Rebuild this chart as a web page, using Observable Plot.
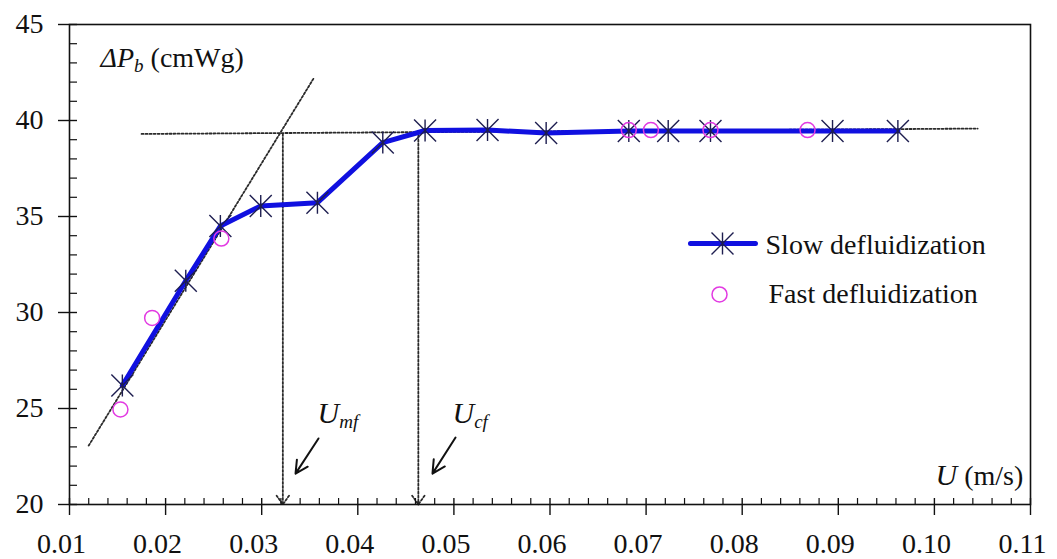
<!DOCTYPE html>
<html><head><meta charset="utf-8">
<script src="https://cdn.jsdelivr.net/npm/d3@7"></script>
<script src="https://cdn.jsdelivr.net/npm/@observablehq/plot@0.6"></script>
<style>
body{margin:0;background:#fff;font-family:"Liberation Serif";font-size:28px}
#fontwarm{position:absolute;left:2px;top:2px;z-index:-1;color:#fff;font-family:"Liberation Serif";font-size:3px;line-height:1}
#chart{position:relative}
</style>
</head><body><span id="fontwarm">0.1 Sw <i>U</i></span><div id="chart"></div>
<script>
// Slow defluidization (blue line with asterisks)
const slowU = [0.0155, 0.0221, 0.0257, 0.0299, 0.0358, 0.0426, 0.0470, 0.0535, 0.0596, 0.0682, 0.0723, 0.0767, 0.0894, 0.0962];
const slowP = [26.2, 31.65, 34.5, 35.55, 35.72, 38.85, 39.48, 39.5, 39.35, 39.45, 39.45, 39.45, 39.45, 39.45];
// Fast defluidization (magenta circles)
const fastU = [0.0153, 0.0186, 0.0258, 0.0682, 0.0705, 0.0767, 0.0868];
const fastP = [24.95, 29.72, 33.85, 39.5, 39.5, 39.5, 39.5];
// Tick labels
const xTicks = [0.01, 0.02, 0.03, 0.04, 0.05, 0.06, 0.07, 0.08, 0.09, 0.10, 0.11];
const yTicks = [20, 25, 30, 35, 40, 45];
// Dotted construction lines
const tangentU = [0.0120, 0.0354];
const tangentP = [23.07, 42.19];
const plateauU = [0.0175, 0.1045];
const plateauP = [39.3, 39.58];
const velocityNames = ["Umf", "Ucf"];
const velocityU = [0.0322, 0.0463];
const velocityTopP = [39.3, 39.42];
// Annotation pointer arrows
const pointerU1 = [0.03591, 0.05017];
const pointerP1 = [23.44, 23.49];
const pointerU2 = [0.03352, 0.04777];
const pointerP2 = [21.61, 21.61];
// Text annotations
const noteText = ["ΔPb (cmWg)", "Umf", "Ucf", "U (m/s)"];
const noteU = [0.01323, 0.03581, 0.04985, 0.10011];
const noteP = [42.81, 24.22, 24.22, 20.99];
// Legend
const legendNames = ["Slow defluidization", "Fast defluidization"];
const legendSymbolU = [0.07795, 0.07764];
const legendLineU = [0.07462, 0.08138];
const legendTextU = [0.08243, 0.08274];
const legendP = [33.59, 30.94];
const legendTextP = [33.07, 30.47];

if (document.fonts && document.fonts.load) {
  document.fonts.load('28px "Liberation Serif"');
  document.fonts.load('italic 28px "Liberation Serif"');
}

const slow = slowU.map((u, i) => ({u, p: slowP[i]}));
const fast = fastU.map((u, i) => ({u, p: fastP[i]}));
const tangent = tangentU.map((u, i) => ({u, p: tangentP[i]}));
const plateau = plateauU.map((u, i) => ({u, p: plateauP[i]}));
const verticals = velocityNames.map((n, i) => ({n, u: velocityU[i], top: velocityTopP[i], bottom: yTicks[0]}));
const pointers = pointerU1.map((u, i) => ({u1: u, p1: pointerP1[i], u2: pointerU2[i], p2: pointerP2[i]}));
const notes = noteText.map((t, i) => ({t, u: noteU[i], p: noteP[i]}));
const legendLine = legendLineU.map(u => ({u, p: legendP[0]}));

const xMinor = d3.range(10, 111, 2).map(v => v / 1000).filter(v => !xTicks.some(t => Math.abs(t - v) < 1e-9));
const yMinor = d3.range(20, 46, 1).filter(v => !yTicks.includes(v));

const starSymbol = {
  draw(ctx, size) {
    const r = Math.sqrt(size / Math.PI);
    ctx.moveTo(0, -r); ctx.lineTo(0, r);
    ctx.moveTo(-r, -r); ctx.lineTo(r, r);
    ctx.moveTo(-r, r); ctx.lineTo(r, -r);
  }
};

const fontName = "Liberation Serif";
const blue = "#1010e0";
const starColor = "#1e1e50";
const magenta = "#e23ae2";
const dotted = "#2a2a2a";

const chart = Plot.plot({
  width: 1057, height: 559,
  marginLeft: 69, marginRight: 27, marginTop: 24, marginBottom: 55,
  x: {domain: [0.01, 0.11]},
  y: {domain: [20, 45]},
  style: {fontFamily: fontName, fontSize: "28px", background: "#fff", color: "#111"},
  marks: [
    // construction lines
    Plot.line(tangent, {x: "u", y: "p", stroke: dotted, strokeWidth: 1.8, strokeDasharray: "2,2"}),
    Plot.line(plateau, {x: "u", y: "p", stroke: dotted, strokeWidth: 1.8, strokeDasharray: "2,2"}),
    Plot.arrow(verticals, {x: "u", y1: "top", y2: "bottom", stroke: dotted, strokeWidth: 1.8, strokeDasharray: "2,2", headLength: 9, headAngle: 70}),
    // slow series
    Plot.line(slow, {x: "u", y: "p", stroke: blue, strokeWidth: 5, strokeLinejoin: "round"}),
    Plot.dot(slow, {x: "u", y: "p", symbol: starSymbol, r: 11, stroke: starColor, strokeWidth: 1.4, fill: "none"}),
    // fast series
    Plot.dot(fast, {x: "u", y: "p", r: 7.5, stroke: magenta, strokeWidth: 1.5, fill: "none"}),
    // pointer arrows
    Plot.arrow(pointers, {x1: "u1", y1: "p1", x2: "u2", y2: "p2", stroke: "#111", strokeWidth: 2, headLength: 12, headAngle: 55}),
    // annotations
    Plot.text(notes, {x: "u", y: "p", text: "t", textAnchor: "start", lineAnchor: "bottom", fill: "#111", fontSize: 28, fontFamily: fontName}),
    // legend
    Plot.line(legendLine, {x: "u", y: "p", stroke: blue, strokeWidth: 5}),
    Plot.dot([{u: legendSymbolU[0], p: legendP[0]}], {x: "u", y: "p", symbol: starSymbol, r: 11, stroke: starColor, strokeWidth: 1.4}),
    Plot.dot([{u: legendSymbolU[1], p: legendP[1]}], {x: "u", y: "p", r: 7.5, stroke: magenta, strokeWidth: 1.5, fill: "none"}),
    Plot.text(legendNames.map((n, i) => ({n, u: legendTextU[i], p: legendTextP[i]})), {x: "u", y: "p", text: "n", textAnchor: "start", lineAnchor: "bottom", fill: "#111", fontSize: 28, fontFamily: fontName}),
    // axes
    Plot.frame({stroke: "#111", strokeWidth: 1.6}),
    Plot.axisX(xTicks, {anchor: "bottom", tickSize: 11, tickFormat: () => "", label: null, strokeWidth: 1.4}),
    Plot.axisX(xTicks, {anchor: "bottom", tickSize: -6, tickFormat: () => "", label: null, strokeWidth: 1.4}),
    Plot.axisX(xMinor, {anchor: "bottom", tickSize: -6, tickFormat: () => "", label: null, strokeWidth: 1.2}),
    Plot.axisX(xTicks, {anchor: "bottom", tickSize: 0, tickPadding: 29, dx: -8, tickFormat: d3.format(".2f"), label: null, fontSize: 28, fontFamily: fontName}),
    Plot.axisY(yTicks, {anchor: "left", tickSize: 11, tickPadding: 15, label: null, fontSize: 28, fontFamily: fontName, strokeWidth: 1.4}),
    Plot.axisY(yTicks, {anchor: "left", tickSize: -8, tickFormat: () => "", label: null, strokeWidth: 1.4}),
    Plot.axisY(yMinor, {anchor: "left", tickSize: -8, tickFormat: () => "", label: null, strokeWidth: 1.2})
  ]
});

// Rich text: italics and subscripts
const rich = {
  "ΔPb (cmWg)": [["ΔP", "i"], ["b", "sub"], [" (cmWg)", ""]],
  "Umf": [["U", "bigi"], ["mf", "sub"]],
  "Ucf": [["U", "bigi"], ["cf", "sub"]],
  "U (m/s)": [["U", "bigi"], [" (m/s)", ""]]
};
chart.querySelectorAll("text").forEach(el => {
  const segs = rich[el.textContent];
  if (!segs) return;
  el.textContent = "";
  let shifted = false;
  for (const [s, kind] of segs) {
    const ts = document.createElementNS("http://www.w3.org/2000/svg", "tspan");
    ts.textContent = s;
    if (kind === "i") ts.setAttribute("font-style", "italic");
    if (kind === "bigi") { ts.setAttribute("font-style", "italic"); ts.setAttribute("font-size", "30"); }
    if (kind === "sub") {
      ts.setAttribute("font-style", "italic");
      ts.setAttribute("font-size", "19");
      ts.setAttribute("dy", "5");
      shifted = true;
    } else if (shifted) {
      ts.setAttribute("dy", "-5");
      shifted = false;
    }
    el.appendChild(ts);
  }
});

document.getElementById("chart").appendChild(chart);
</script>
</body></html>
